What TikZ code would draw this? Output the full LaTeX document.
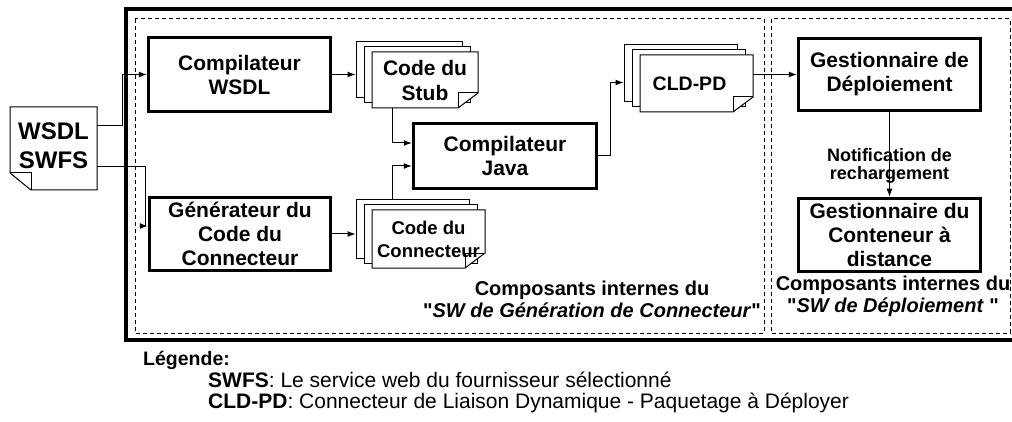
\documentclass[tikz,border=0pt]{standalone}
\usepackage{fontspec}
\setmainfont{Liberation Sans}[Ligatures=TeXOff]
\usetikzlibrary{arrows.meta,positioning}

% pile de trois documents : nom, gauche, haut, largeur, hauteur, taille, texte
\newcommand{\stackdoc}[7]{%
	\node[page, minimum width=#4, minimum height=#5] (#1c) at (#2+#4/2-16,#3+#5/2-10){};
	\node[page, minimum width=#4, minimum height=#5] (#1b) at (#2+#4/2-8,#3+#5/2-5){};
	\draw[page] (#2,#3) -- (#2+#4,#3) -- (#2+#4,#3+#5-15) -- (#2+#4-20,#3+#5) -- (#2,#3+#5) -- cycle;
	\draw[line width=1pt] (#2+#4,#3+#5-15) -- (#2+#4-20,#3+#5-15) -- (#2+#4-20,#3+#5);
	\node[doctext, minimum width=#4, minimum height=#5, font=#6] (#1) at (#2+#4/2,#3+#5/2){#7};
}

\begin{document}
\begin{tikzpicture}[x=1pt,y=-1pt,
	proc/.style={draw, line width=3.5pt, inner sep=0pt, align=center, font=\fontsize{21}{24}\selectfont\bfseries},
	page/.style={draw, fill=white, line width=1pt, inner sep=0pt},
	doctext/.style={inner sep=0pt, align=center},
	frame/.style={dash pattern=on 4pt off 3pt, line width=1pt},
	arr/.style={-{Latex[length=8pt,width=6pt]}, line width=1pt},
	note/.style={align=center, font=\fontsize{18}{18}\selectfont\bfseries},
	caption/.style={inner sep=0pt, align=center, font=\fontsize{20}{22}\selectfont\bfseries}]

	\useasboundingbox (0,0) rectangle (1012,422);

	% cadres
	\draw[line width=4.5pt] (126,9) rectangle (1030,340);
	\draw[frame] (135,19) rectangle (764,333);
	\draw[frame] (771,19) rectangle (1010,333);

	% document d'entree
	\draw[page] (10,107) -- (97,107) -- (97,190) -- (31,190) -- (10,173) -- cycle;
	\draw[line width=1pt] (10,173) -- (31,173) -- (31,190);
	\node[doctext, minimum width=87, minimum height=83, font=\fontsize{24}{29}\selectfont\bfseries] (ws) at (53.5,146){WSDL\\SWFS};

	% composants
	\node[proc, minimum width=182, minimum height=74] (wsdlc) at (239.5,74.5){Compilateur\\WSDL};
	\node[proc, minimum width=181, minimum height=73] (gen) at (240,234){Générateur du\\Code du\\Connecteur};
	\node[proc, minimum width=183, minimum height=65] (java) at (505,156){Compilateur\\Java};
	\node[proc, minimum width=182, minimum height=72] (deploi) at (889.5,74.5){Gestionnaire de\\Déploiement};
	\node[proc, minimum width=182, minimum height=73] (conten) at (889.5,235){Gestionnaire du\\Conteneur à\\distance};

	\stackdoc{stub}{372}{52}{106}{56}{\fontsize{21}{25}\selectfont\bfseries}{Code du\\Stub}
	\stackdoc{conn}{372}{210}{113}{58}{\fontsize{18.5}{23}\selectfont\bfseries}{Code du\\Connecteur}
	\stackdoc{cld}{640}{55}{113}{57}{\fontsize{19.5}{23}\selectfont\bfseries}{CLD-PD\hspace*{14pt}}

	% liens
	\draw[arr] ([yshift=20pt]ws.east) -- ++(25,0) |- (wsdlc.west);
	\draw[arr] ([yshift=-21pt]ws.east) -| ([xshift=-2pt,yshift=8pt]gen.west) -- ([yshift=8pt]gen.west);
	\draw[arr] (wsdlc.east) -- (wsdlc.east -| stubc.west);
	\draw[arr] (gen.east) -- (gen.east -| connc.west);
	\draw[arr] ([xshift=21pt]stub.south west) |- ([yshift=13pt]java.west);
	\draw[arr] ([xshift=21pt,yshift=10pt]conn.north west) |- ([yshift=-10pt]java.west);
	\draw[arr] (java.east) -- ++(12,0) |- ([yshift=-9pt]cldc.west);
	\draw[arr] (cld.east |- deploi.west) -- (deploi.west);
	\draw[arr] (deploi.south) -- node[note, pos=0.64] (notif){Notification de\\rechargement} (conten.north);

	% legendes des cadres
	\node[caption] (gencap) at (592,299){Composants internes du\\"\textit{SW de Génération de Connecteur}"};
	\node[caption] (depcap) at (893,296){Composants internes du\\"\textit{SW de Déploiement} "};

	% legende
	\node[inner sep=0pt, anchor=base west, font=\fontsize{19.5}{22}\selectfont\bfseries] (leg) at (143,365){Légende:};
	\node[inner sep=0pt, anchor=base west, font=\fontsize{21}{22}\selectfont] (lega) at (208,387){\textbf{SWFS}: Le service web du fournisseur sélectionné};
	\node[inner sep=0pt, anchor=base west, font=\fontsize{21}{22}\selectfont] (legb) at (208,408){\textbf{CLD-PD}: Connecteur de Liaison Dynamique - Paquetage à Déployer};

\end{tikzpicture}
\end{document}
